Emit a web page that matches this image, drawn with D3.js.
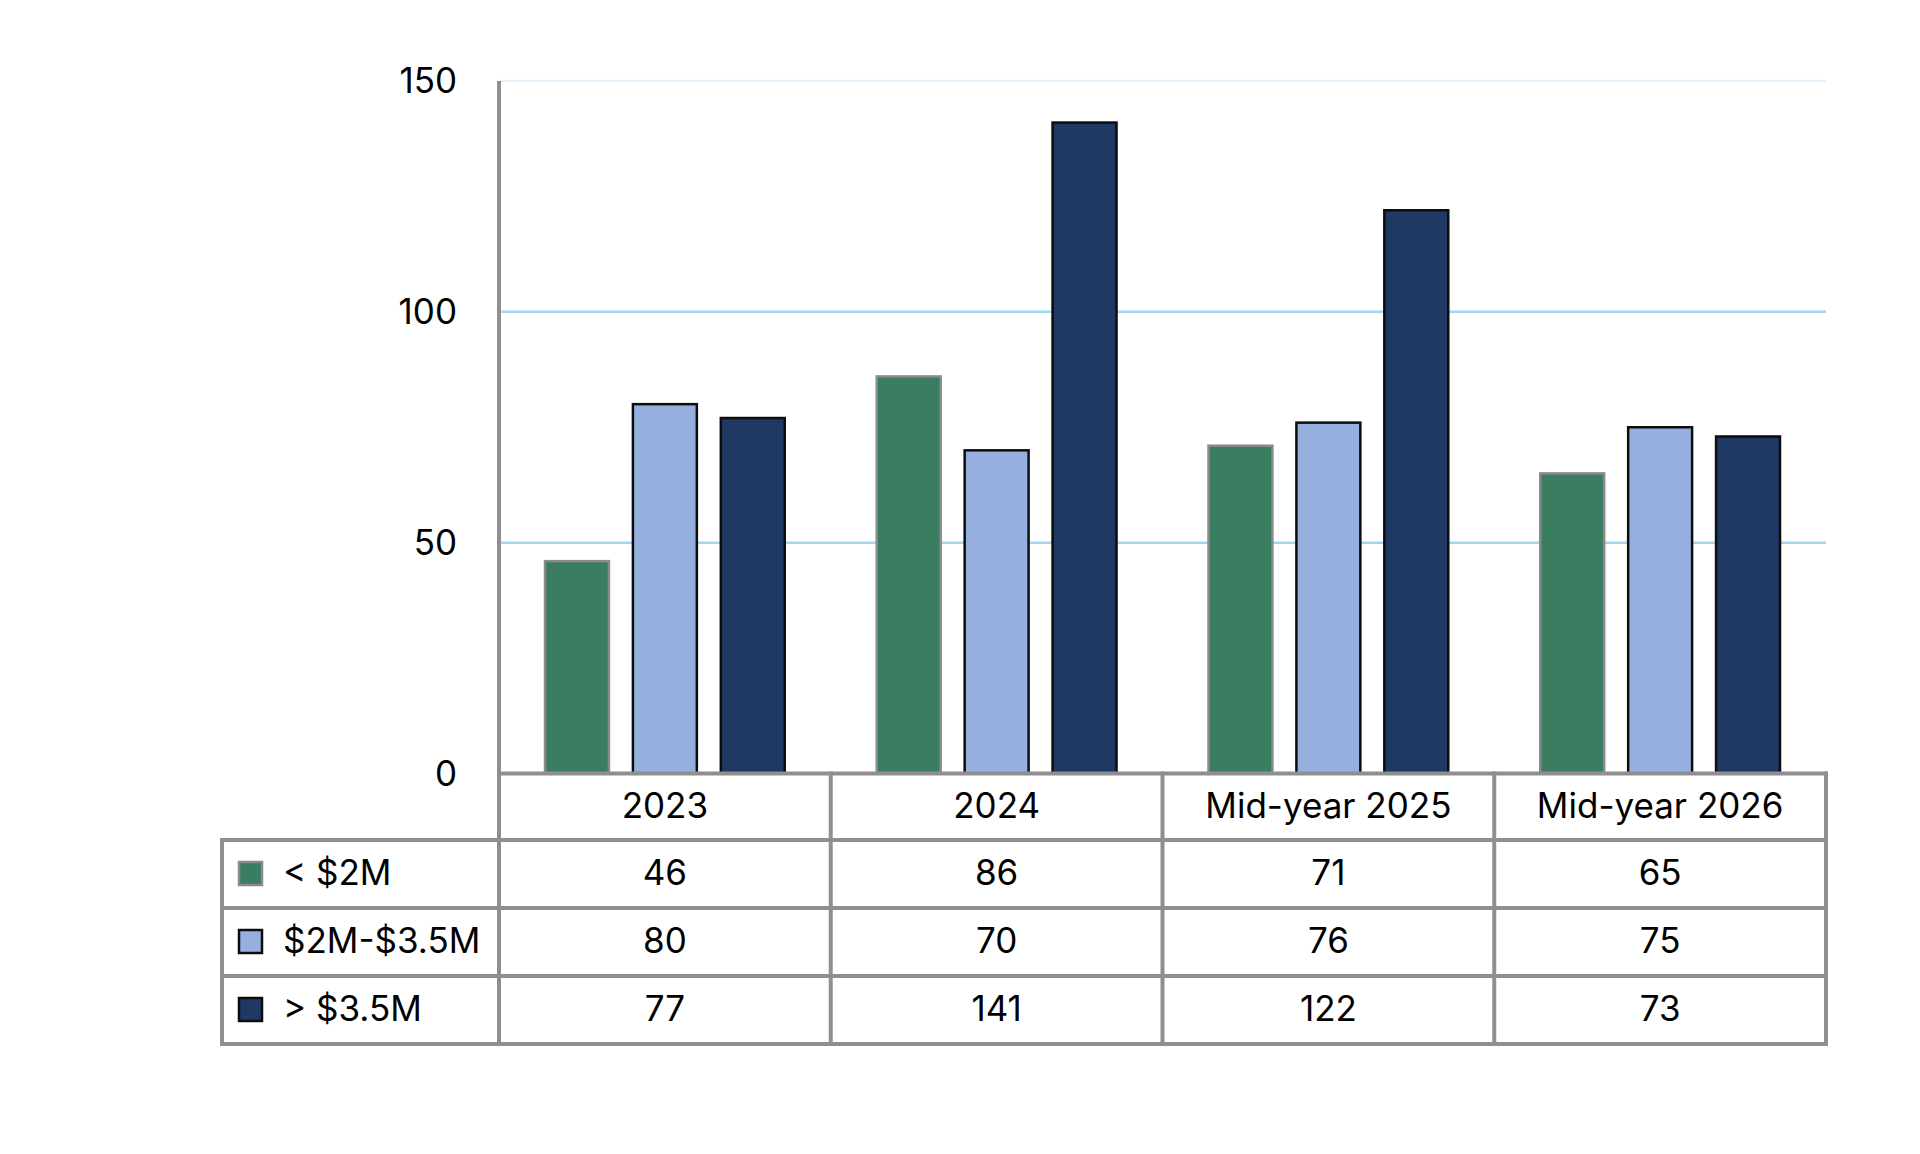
<!DOCTYPE html>
<html>
<head>
<meta charset="utf-8">
<script src="https://cdn.jsdelivr.net/npm/d3@7"></script>
<style>
  html, body { margin: 0; padding: 0; background: #fff; }
  svg { display: block; }
  text { font-family: Inter, "Liberation Sans", Arial, sans-serif; fill: #000; }
</style>
</head>
<body>
<svg id="chart" width="1920" height="1154"></svg>
<script>
const categories = ["2023", "2024", "Mid-year 2025", "Mid-year 2026"];
const seriesNames = ["< $2M", "$2M-$3.5M", "> $3.5M"];
const seriesLow = [46, 86, 71, 65];
const seriesMid = [80, 70, 76, 75];
const seriesHigh = [77, 141, 122, 73];
const yTicks = [0, 50, 100, 150];

(function () {
const seriesValues = [seriesLow, seriesMid, seriesHigh];
const fills = ["#3a7d60", "#95b0de", "#203864"];
const strokes = ["#8a8a8a", "#0d0d0d", "#0d0d0d"];
const fontFam = "Inter, Liberation Sans, Arial, sans-serif";
const fs = "35px";

const svg = d3.select("#chart");
const plotLeft = 499, plotRight = 1826, plotTop = 81, plotBottom = 773.5;
const legendLeft = 222;
const rowH = [773.5, 840, 908, 976, 1044];
const gridColor = "#8f8f8f";

const x = d3.scaleBand().domain(categories).range([plotLeft, plotRight]).paddingInner(0).paddingOuter(0);
const inner = d3.scaleBand().domain(d3.range(3)).range([46, x.bandwidth() - 46]).paddingInner(24 / 88).paddingOuter(0);
const y = d3.scaleLinear().domain([0, 150]).range([plotBottom, plotTop]);

// gridlines
svg.append("g").selectAll("line").data(yTicks.filter(d => d > 0)).join("line")
  .attr("x1", plotLeft).attr("x2", plotRight)
  .attr("y1", d => y(d)).attr("y2", d => y(d))
  .attr("stroke", d => d === 150 ? "#e6f3fb" : "#a3d6ef")
  .attr("stroke-width", 2.5);

// bars
const groups = svg.append("g").selectAll("g").data(categories).join("g")
  .attr("transform", d => `translate(${x(d)},0)`);
groups.selectAll("rect").data((c, ci) => seriesValues.map((s, si) => ({ si, v: s[ci] }))).join("rect")
  .attr("x", d => inner(d.si))
  .attr("width", inner.bandwidth())
  .attr("y", d => y(d.v))
  .attr("height", d => y(0) - y(d.v))
  .attr("fill", d => fills[d.si])
  .attr("stroke", d => strokes[d.si])
  .attr("stroke-width", 2.5);

// y axis
const yAxis = d3.axisLeft(y).tickValues(yTicks).tickSize(0).tickPadding(42).tickFormat(d3.format("d"));
const yg = svg.append("g").attr("transform", `translate(${plotLeft},0)`).call(yAxis);
yg.select(".domain").remove();
yg.selectAll("text").style("font-size", fs).attr("font-family", fontFam).attr("fill", "#000").attr("dy", "0.34em");
svg.append("line").attr("x1", plotLeft).attr("x2", plotLeft).attr("y1", plotTop).attr("y2", rowH[4])
  .attr("stroke", gridColor).attr("stroke-width", 4);

// table lines
const tbl = svg.append("g").attr("stroke", gridColor).attr("stroke-width", 4).attr("stroke-linecap", "square");
tbl.append("line").attr("x1", plotLeft).attr("x2", plotRight).attr("y1", rowH[0]).attr("y2", rowH[0]);
[1, 2, 3, 4].forEach(i => {
  tbl.append("line").attr("x1", legendLeft).attr("x2", plotRight).attr("y1", rowH[i]).attr("y2", rowH[i]);
});
tbl.append("line").attr("x1", legendLeft).attr("x2", legendLeft).attr("y1", rowH[1]).attr("y2", rowH[4]);
categories.forEach(c => {
  tbl.append("line").attr("x1", x(c) + x.bandwidth()).attr("x2", x(c) + x.bandwidth()).attr("y1", rowH[0]).attr("y2", rowH[4]);
});

// header labels
svg.append("g").selectAll("text").data(categories).join("text")
  .attr("x", d => x(d) + x.bandwidth() / 2)
  .attr("y", (rowH[0] + rowH[1]) / 2 - 1)
  .attr("dy", "0.35em")
  .attr("text-anchor", "middle")
  .style("font-size", fs).text(d => d);

// value cells + legend
seriesValues.forEach((s, si) => {
  const cy = (rowH[si + 1] + rowH[si + 2]) / 2;
  svg.append("g").selectAll("text").data(s).join("text")
    .attr("x", (d, i) => x(categories[i]) + x.bandwidth() / 2)
    .attr("y", cy - 1.5)
    .attr("dy", "0.35em")
    .attr("text-anchor", "middle")
    .style("font-size", fs).text(d => d);
  svg.append("rect")
    .attr("x", 239).attr("y", cy - 12).attr("width", 23).attr("height", 23)
    .attr("fill", fills[si]).attr("stroke", strokes[si]).attr("stroke-width", 2.5);
  svg.append("text")
    .attr("x", 283).attr("y", cy - 1.5)
    .attr("dy", "0.35em")
    .style("font-size", fs).text(seriesNames[si]);
});
})();
</script>
</body>
</html>
